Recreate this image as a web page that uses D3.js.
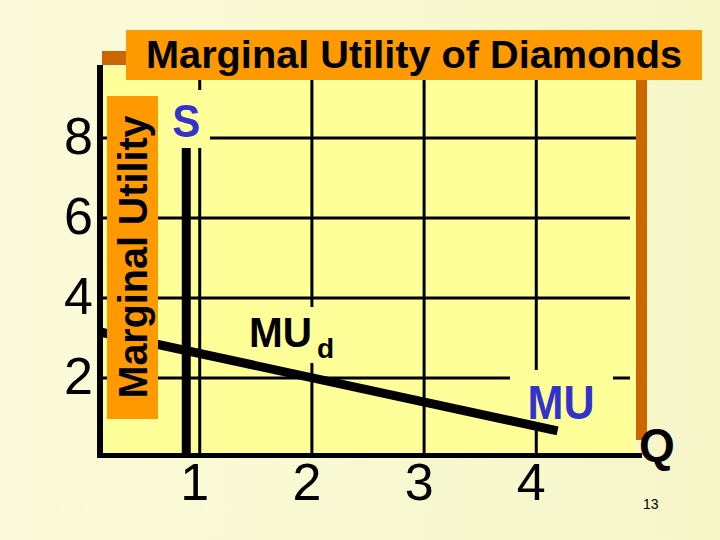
<!DOCTYPE html>
<html>
<head>
<meta charset="utf-8">
<script src="https://cdn.jsdelivr.net/npm/d3@7"></script>
<style>
  html, body { margin: 0; padding: 0; }
  body { width: 720px; height: 540px; overflow: hidden; }
  svg { display: block; font-family: "Liberation Sans", Arial, sans-serif; }
</style>
</head>
<body>
<svg id="chart" width="720" height="540"></svg>
<script>
// ---- data ----
const titleText = "Marginal Utility of Diamonds";
const yAxisTitle = "Marginal Utility";
const xAxisTitle = "Q";
const xTicks = [1, 2, 3, 4];
const xTickLabels = ["1", "2", "3", "4"];
const yTicks = [2, 4, 6, 8];
const yTickLabels = ["2", "4", "6", "8"];
const supplyQ = 0.88;           // vertical supply line S
const supplyTop = 7.75;         // top of S line (utility units)
const muQ = [0.111, 4.19];      // MU line quantities
const muVal = [3.15, 0.68];     // MU line marginal utility
const slideNumber = "13";

// ---- scales ----
const xMin = 0.111, xMax = 4.889, yMax = 9.8;
const x = d3.scaleLinear().domain([xMin, xMax]).range([100, 636]);
const y = d3.scaleLinear().domain([0, yMax]).range([458, 66]);

const svg = d3.select("#chart");
const defs = svg.append("defs");
const grad = defs.append("linearGradient").attr("id", "bg").attr("x1", "0").attr("y1", "0").attr("x2", "1").attr("y2", "0");
grad.append("stop").attr("offset", "0").attr("stop-color", "#fbfbdb");
grad.append("stop").attr("offset", "1").attr("stop-color", "#f6f6c9");
svg.append("rect").attr("width", 720).attr("height", 540).attr("fill", "url(#bg)");

const panel = "#ffff99", orange = "#ff9900", brown = "#cc6600", blue = "#3333cc";

// panel
svg.append("rect").attr("x", x(xMin)).attr("y", y(yMax))
  .attr("width", x(xMax) - x(xMin)).attr("height", y(0) - y(yMax)).attr("fill", panel);

// gridlines
const grid = svg.append("g").attr("stroke", "#000").attr("stroke-width", 3);
grid.selectAll("line.v").data(xTicks).join("line")
  .attr("x1", d => x(d)).attr("x2", d => x(d))
  .attr("y1", y(yMax)).attr("y2", y(0));
grid.selectAll("line.h").data(yTicks).join("line")
  .attr("x1", x(xMin)).attr("x2", d => d === 8 ? 636 : 630)
  .attr("y1", d => y(d)).attr("y2", d => y(d));

// label background boxes (panel coloured, hide gridlines)
svg.append("rect").attr("x", 158).attr("y", 90).attr("width", 52).attr("height", 58).attr("fill", panel);
svg.append("rect").attr("x", 243).attr("y", 307).attr("width", 97).attr("height", 56).attr("fill", panel);
svg.append("rect").attr("x", 510).attr("y", 370).attr("width", 103).attr("height", 58).attr("fill", panel);

// S line
svg.append("line").attr("x1", x(supplyQ)).attr("x2", x(supplyQ))
  .attr("y1", y(supplyTop)).attr("y2", y(0))
  .attr("stroke", "#000").attr("stroke-width", 9);

// MU line
const muData = muQ.map((q, i) => [q, muVal[i]]);
svg.append("path").datum(muData)
  .attr("d", d3.line().x(d => x(d[0])).y(d => y(d[1])))
  .attr("fill", "none").attr("stroke", "#000").attr("stroke-width", 9);

// y-axis title box
svg.append("rect").attr("x", 107).attr("y", 96).attr("width", 51).attr("height", 323).attr("fill", orange);
svg.append("text").attr("transform", "translate(147,257) rotate(-90)")
  .attr("text-anchor", "middle").attr("font-size", 40).attr("font-weight", "bold")
  .attr("textLength", 283).attr("lengthAdjust", "spacingAndGlyphs")
  .attr("fill", "#000").text(yAxisTitle);

// axes
svg.append("line").attr("x1", 100).attr("x2", 100).attr("y1", 65).attr("y2", 458)
  .attr("stroke", "#000").attr("stroke-width", 6);
svg.append("line").attr("x1", 97).attr("x2", 642).attr("y1", 455.5).attr("y2", 455.5)
  .attr("stroke", "#000").attr("stroke-width", 5);

// brown bars
svg.append("rect").attr("x", 636).attr("y", 80).attr("width", 11).attr("height", 360).attr("fill", brown);
svg.append("rect").attr("x", 102).attr("y", 51).attr("width", 24).attr("height", 14).attr("fill", brown);

// title box
svg.append("rect").attr("x", 126).attr("y", 30).attr("width", 576).attr("height", 50).attr("fill", orange);
svg.append("text").attr("x", 146).attr("y", 68)
  .attr("font-size", 38).attr("font-weight", "bold")
  .attr("textLength", 536).attr("lengthAdjust", "spacingAndGlyphs")
  .attr("fill", "#000").text(titleText);

// tick labels
svg.append("g").selectAll("text").data(yTicks).join("text")
  .attr("x", 93).attr("y", d => y(d) + 16)
  .attr("text-anchor", "end").attr("font-size", 52).attr("fill", "#000")
  .text((d, i) => yTickLabels[i]);
svg.append("g").selectAll("text").data(xTicks).join("text")
  .attr("x", d => x(d) - 5).attr("y", 500)
  .attr("text-anchor", "middle").attr("font-size", 52).attr("fill", "#000")
  .text((d, i) => xTickLabels[i]);

// annotations
svg.append("text").attr("x", x(supplyQ)).attr("y", y(8) - 1)
  .attr("text-anchor", "middle").attr("font-size", 47).attr("font-weight", "bold")
  .attr("textLength", 28).attr("lengthAdjust", "spacingAndGlyphs")
  .attr("fill", blue).text("S");

svg.append("text").attr("x", x(muQ[1]) + 3.5).attr("y", 419)
  .attr("text-anchor", "middle").attr("font-size", 48).attr("font-weight", "bold")
  .attr("textLength", 67).attr("lengthAdjust", "spacingAndGlyphs")
  .attr("fill", blue).text("MU");

const mud = svg.append("text").attr("x", 249).attr("y", 347)
  .attr("font-size", 42).attr("font-weight", "bold").attr("fill", "#000");
mud.append("tspan").attr("textLength", 63).attr("lengthAdjust", "spacingAndGlyphs").text("MU");
mud.append("tspan").attr("x", 317).attr("y", 358).attr("font-size", 28).text("d");

svg.append("text").attr("x", 639).attr("y", 461)
  .attr("font-size", 46).attr("font-weight", "bold").attr("fill", "#000").text(xAxisTitle);

svg.append("text").attr("x", 643).attr("y", 509)
  .attr("font-size", 14).attr("fill", "#000").text(slideNumber);
</script>
</body>
</html>
